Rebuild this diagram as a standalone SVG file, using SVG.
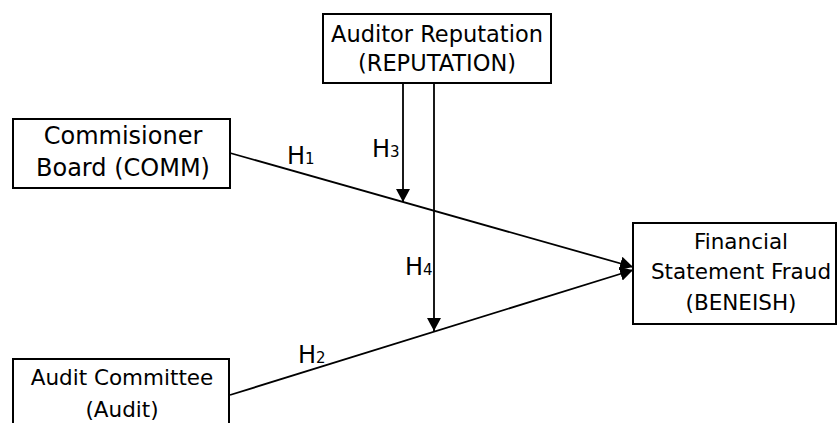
<svg xmlns="http://www.w3.org/2000/svg" width="837" height="423" viewBox="0 0 837 423">
<style>
.box{fill:#fff;stroke:#000;stroke-width:2}
.t{font-family:"DejaVu Sans",Verdana,sans-serif;fill:#000;text-anchor:middle}
.h{font-family:"DejaVu Sans",Verdana,sans-serif;fill:#000;font-size:24px}
.sub{font-size:15px}
.ln{stroke:#000;stroke-width:1.8;fill:none;marker-end:url(#ah)}
</style>
<defs>
<marker id="ah" markerUnits="userSpaceOnUse" markerWidth="14" markerHeight="14" viewBox="0 0 14 14" refX="13" refY="7" orient="auto">
<path d="M0,0 L13,7 L0,14 Z" fill="#000"/>
</marker>
</defs>
<rect width="837" height="423" fill="#fff"/>
<g id="connectors">
<line class="ln" x1="230" y1="153" x2="633" y2="267"/>
<line class="ln" x1="230" y1="395" x2="633" y2="270"/>
<line class="ln" x1="403" y1="84" x2="403" y2="202"/>
<line class="ln" x1="434" y1="84" x2="434" y2="331"/>
<text class="h" x="287" y="164">H<tspan class="sub">1</tspan></text>
<text class="h" x="298" y="363">H<tspan class="sub">2</tspan></text>
<text class="h" x="372" y="157">H<tspan class="sub">3</tspan></text>
<text class="h" x="405" y="275">H<tspan class="sub">4</tspan></text>
</g>
<g id="reputation">
<rect class="box" x="323" y="14" width="228" height="69"/>
<text class="t" x="437" y="42" font-size="22.5">Auditor Reputation</text>
<text class="t" x="437" y="71" font-size="22.5">(REPUTATION)</text>
</g>
<g id="comm">
<rect class="box" x="13" y="119" width="217" height="69"/>
<text class="t" x="123" y="144" font-size="24">Commisioner</text>
<text class="t" x="123" y="176" font-size="24">Board (COMM)</text>
</g>
<g id="beneish">
<rect class="box" x="633" y="223" width="203" height="101"/>
<text class="t" x="741" y="249" font-size="21.5">Financial</text>
<text class="t" x="741" y="279" font-size="21.5">Statement Fraud</text>
<text class="t" x="741" y="310" font-size="21.5">(BENEISH)</text>
</g>
<g id="audit">
<rect class="box" x="13" y="359" width="216" height="80"/>
<text class="t" x="122" y="385" font-size="21.5">Audit Committee</text>
<text class="t" x="122" y="417" font-size="21.5">(Audit)</text>
</g>
</svg>
